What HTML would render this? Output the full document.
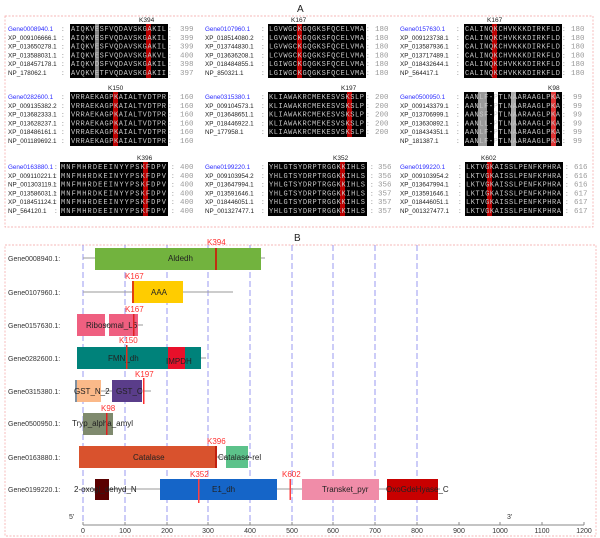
<!DOCTYPE html>
<html><head><meta charset="utf-8"><style>
body{margin:0;background:#fff}
svg{display:block;font-family:"Liberation Sans",sans-serif}
.l{font-size:6.3px;fill:#222}
.g{font-size:6.3px;fill:#2b2bff}
.s{font-family:"Liberation Mono",monospace;font-size:7px;fill:#c8c8c8}
.n{font-family:"Liberation Mono",monospace;font-size:7.5px;fill:#999}
.k{font-size:6.5px;fill:#222}
.d{font-size:8px;fill:#222}
.r{font-size:8px;fill:#ff3030}
.a{font-size:7px;fill:#333}
</style></head><body>
<svg width="600" height="538" viewBox="0 0 600 538">
<text x="297" y="12" font-size="10" fill="#222">A</text>
<rect x="5" y="16" width="588" height="211" fill="none" stroke="#f4a0a0" stroke-width="0.7" stroke-dasharray="2,1.5"/>

<!-- Group 1 -->
<g transform="translate(0,24)">
 <text class="k" x="139" y="-2">K394</text><text class="k" x="291" y="-2">K167</text><text class="k" x="487" y="-2">K167</text>
 <rect x="70" y="0" width="98" height="54" fill="#000"/><rect x="95" y="0" width="4" height="54" fill="#888"/><rect x="146" y="0" width="5" height="54" fill="#b00"/>
 <rect x="268" y="0" width="98" height="54" fill="#000"/><rect x="297" y="0" width="5" height="54" fill="#b00"/>
 <rect x="464" y="0" width="98" height="54" fill="#000"/><rect x="492" y="0" width="5" height="54" fill="#b00"/>
 <g class="g"><text x="8" y="7">Gene0008940.1</text><text x="205" y="7">Gene0107960.1</text><text x="400" y="7">Gene0157630.1</text></g>
 <g class="l">
 <text x="8" y="15.8">XP_009106666.1</text><text x="8" y="24.6">XP_013650278.1</text><text x="8" y="33.4">XP_013588031.1</text><text x="8" y="42.2">XP_018457178.1</text><text x="8" y="51">NP_178062.1</text>
 <text x="205" y="15.8">XP_018514080.2</text><text x="205" y="24.6">XP_013744830.1</text><text x="205" y="33.4">XP_013636208.1</text><text x="205" y="42.2">XP_018484855.1</text><text x="205" y="51">NP_850321.1</text>
 <text x="400" y="15.8">XP_009123738.1</text><text x="400" y="24.6">XP_013587936.1</text><text x="400" y="33.4">XP_013717489.1</text><text x="400" y="42.2">XP_018432644.1</text><text x="400" y="51">NP_564417.1</text>
 <text x="62" y="7">:</text><text x="62" y="15.8">:</text><text x="62" y="24.6">:</text><text x="62" y="33.4">:</text><text x="62" y="42.2">:</text><text x="62" y="51">:</text>
 <text x="262" y="7">:</text><text x="262" y="15.8">:</text><text x="262" y="24.6">:</text><text x="262" y="33.4">:</text><text x="262" y="42.2">:</text><text x="262" y="51">:</text>
 <text x="457" y="7">:</text><text x="457" y="15.8">:</text><text x="457" y="24.6">:</text><text x="457" y="33.4">:</text><text x="457" y="42.2">:</text><text x="457" y="51">:</text>
 <text x="169" y="7">:</text><text x="169" y="15.8">:</text><text x="169" y="24.6">:</text><text x="169" y="33.4">:</text><text x="169" y="42.2">:</text><text x="169" y="51">:</text>
 <text x="367" y="7">:</text><text x="367" y="15.8">:</text><text x="367" y="24.6">:</text><text x="367" y="33.4">:</text><text x="367" y="42.2">:</text><text x="367" y="51">:</text>
 <text x="563" y="7">:</text><text x="563" y="15.8">:</text><text x="563" y="24.6">:</text><text x="563" y="33.4">:</text><text x="563" y="42.2">:</text><text x="563" y="51">:</text>
 </g>
 <g class="s">
 <text x="71" y="7" textLength="95">AIQKVESFVQDAVSKGAKIL</text><text x="71" y="15.8" textLength="95">AIQKVESFVQDAVSKGAKIL</text><text x="71" y="24.6" textLength="95">AIQKVESFVQDAVSKGAKIL</text><text x="71" y="33.4" textLength="95">AIQKVESFVQDAVSKGAKVL</text><text x="71" y="42.2" textLength="95">AIQKVDSFVQDAVSKGAKIL</text><text x="71" y="51" textLength="95">AVQKVETFVQDAVSKGAKII</text>
 <text x="269" y="7" textLength="95">LGVWGCKGQGKSFQCELVMA</text><text x="269" y="15.8" textLength="95">LGVWGCKGQGKSFQCELVMA</text><text x="269" y="24.6" textLength="95">LGVWGCKGQGKSFQCELVMA</text><text x="269" y="33.4" textLength="95">LCVWGCKGQGKSFQCELVMA</text><text x="269" y="42.2" textLength="95">LGIWGCKGQGKSFQCELVMA</text><text x="269" y="51" textLength="95">LGIWGCKGQGKSFQCELVMA</text>
 <text x="465" y="7" textLength="95">CALINQKCHVKKKDIRKFLD</text><text x="465" y="15.8" textLength="95">CALINQKCHVKKKDIRKFLD</text><text x="465" y="24.6" textLength="95">CALINQKCHVKKKDIRKFLD</text><text x="465" y="33.4" textLength="95">CALINQKCHVKKKDIRKFLD</text><text x="465" y="42.2" textLength="95">CALINQKCHVKKKDIRKFLD</text><text x="465" y="51" textLength="95">CALINQKCHVKKKDIRKFLD</text>
 </g>
 <g class="n">
 <text x="180" y="7">399</text><text x="180" y="15.8">399</text><text x="180" y="24.6">399</text><text x="180" y="33.4">400</text><text x="180" y="42.2">398</text><text x="180" y="51">397</text>
 <text x="375" y="7">180</text><text x="375" y="15.8">180</text><text x="375" y="24.6">180</text><text x="375" y="33.4">180</text><text x="375" y="42.2">180</text><text x="375" y="51">180</text>
 <text x="571" y="7">180</text><text x="571" y="15.8">180</text><text x="571" y="24.6">180</text><text x="571" y="33.4">180</text><text x="571" y="42.2">180</text><text x="571" y="51">180</text>
 </g>
</g>

<!-- Group 2 -->
<g transform="translate(0,92)">
 <text class="k" x="108" y="-2">K150</text><text class="k" x="341" y="-2">K197</text><text class="k" x="548" y="-2">K98</text>
 <rect x="70" y="0" width="98" height="54" fill="#000"/><rect x="113" y="0" width="5" height="54" fill="#b00"/>
 <rect x="268" y="0" width="98" height="45" fill="#000"/><rect x="347" y="0" width="5" height="45" fill="#b00"/>
 <rect x="464" y="0" width="98" height="54" fill="#000"/><rect x="478" y="0" width="9" height="54" fill="#999"/><rect x="494" y="0" width="4" height="54" fill="#fff"/><rect x="511" y="0" width="5" height="54" fill="#aaa"/><rect x="551" y="0" width="5" height="54" fill="#d33"/>
 <g class="g"><text x="8" y="7">Gene0282600.1</text><text x="205" y="7">Gene0315380.1</text><text x="400" y="7">Gene0500950.1</text></g>
 <g class="l">
 <text x="8" y="15.8">XP_009135382.2</text><text x="8" y="24.6">XP_013682333.1</text><text x="8" y="33.4">XP_013628237.1</text><text x="8" y="42.2">XP_018486161.1</text><text x="8" y="51">NP_001189692.1</text>
 <text x="205" y="15.8">XP_009104573.1</text><text x="205" y="24.6">XP_013648651.1</text><text x="205" y="33.4">XP_018446922.1</text><text x="205" y="42.2">NP_177958.1</text>
 <text x="400" y="15.8">XP_009143379.1</text><text x="400" y="24.6">XP_013706999.1</text><text x="400" y="33.4">XP_013630892.1</text><text x="400" y="42.2">XP_018434351.1</text><text x="400" y="51">NP_181387.1</text>
 <text x="62" y="7">:</text><text x="62" y="15.8">:</text><text x="62" y="24.6">:</text><text x="62" y="33.4">:</text><text x="62" y="42.2">:</text><text x="62" y="51">:</text>
 <text x="262" y="7">:</text><text x="262" y="15.8">:</text><text x="262" y="24.6">:</text><text x="262" y="33.4">:</text><text x="262" y="42.2">:</text>
 <text x="457" y="7">:</text><text x="457" y="15.8">:</text><text x="457" y="24.6">:</text><text x="457" y="33.4">:</text><text x="457" y="42.2">:</text><text x="457" y="51">:</text>
 <text x="169" y="7">:</text><text x="169" y="15.8">:</text><text x="169" y="24.6">:</text><text x="169" y="33.4">:</text><text x="169" y="42.2">:</text><text x="169" y="51">:</text>
 <text x="367" y="7">:</text><text x="367" y="15.8">:</text><text x="367" y="24.6">:</text><text x="367" y="33.4">:</text><text x="367" y="42.2">:</text>
 <text x="563" y="7">:</text><text x="563" y="15.8">:</text><text x="563" y="24.6">:</text><text x="563" y="33.4">:</text><text x="563" y="42.2">:</text><text x="563" y="51">:</text>
 </g>
 <g class="s">
 <text x="71" y="7" textLength="95">VRRAEKAGPKAIALTVDTPR</text><text x="71" y="15.8" textLength="95">VRRAEKAGPKAIALTVDTPR</text><text x="71" y="24.6" textLength="95">VRRAEKAGPKAIALTVDTPR</text><text x="71" y="33.4" textLength="95">VRRAEKAGPKAIALTVDTPR</text><text x="71" y="42.2" textLength="95">VRRAEKAGPKAIALTVDTPR</text><text x="71" y="51" textLength="95">VRRAEKAGPKAIALTVDTPR</text>
 <text x="269" y="7" textLength="95">KLIAWAKRCMEKESVSKSLP</text><text x="269" y="15.8" textLength="95">KLIAWAKRCMEKESVSKSLP</text><text x="269" y="24.6" textLength="95">KLIAWAKRCMEKESVSKSLP</text><text x="269" y="33.4" textLength="95">KLIAWAKRCMEKESVSKSLP</text><text x="269" y="42.2" textLength="95">KLIAWAKRCMEKESVSKSLP</text>
 <text x="465" y="7" textLength="95">AANLF-PTLNAARAAGLPKA</text><text x="465" y="15.8" textLength="95">AANLF-PTLNAARAAGLPKA</text><text x="465" y="24.6" textLength="95">AANSF-PTLNAARAAGLPKA</text><text x="465" y="33.4" textLength="95">AANLL-PTLNAARAAGLPKA</text><text x="465" y="42.2" textLength="95">AANLF-PTLNAARAAGLPKA</text><text x="465" y="51" textLength="95">AANLF-PTLNAARAAGLPKA</text>
 </g>
 <g class="n">
 <text x="180" y="7">160</text><text x="180" y="15.8">160</text><text x="180" y="24.6">160</text><text x="180" y="33.4">160</text><text x="180" y="42.2">160</text><text x="180" y="51">160</text>
 <text x="375" y="7">200</text><text x="375" y="15.8">200</text><text x="375" y="24.6">200</text><text x="375" y="33.4">200</text><text x="375" y="42.2">200</text>
 <text x="573" y="7">99</text><text x="573" y="15.8">99</text><text x="573" y="24.6">99</text><text x="573" y="33.4">99</text><text x="573" y="42.2">99</text><text x="573" y="51">99</text>
 </g>
</g>

<!-- Group 3 -->
<g transform="translate(0,162)">
 <text class="k" x="137" y="-2">K396</text><text class="k" x="333" y="-2">K352</text><text class="k" x="481" y="-2">K602</text>
 <rect x="60" y="0" width="108" height="54" fill="#000"/><rect x="143" y="0" width="5" height="54" fill="#b00"/>
 <rect x="268" y="0" width="99" height="54" fill="#000"/><rect x="340" y="0" width="5" height="54" fill="#b00"/>
 <rect x="465" y="0" width="98" height="54" fill="#000"/><rect x="487" y="0" width="5" height="54" fill="#b00"/>
 <g class="g"><text x="8" y="7">Gene0163880.1</text><text x="205" y="7">Gene0199220.1</text><text x="400" y="7">Gene0199220.1</text></g>
 <g class="l">
 <text x="8" y="15.8">XP_009110221.1</text><text x="8" y="24.6">NP_001303119.1</text><text x="8" y="33.4">XP_013586031.1</text><text x="8" y="42.2">XP_018451124.1</text><text x="8" y="51">NP_564120.1</text>
 <text x="205" y="15.8">XP_009103954.2</text><text x="205" y="24.6">XP_013647994.1</text><text x="205" y="33.4">XP_013591646.1</text><text x="205" y="42.2">XP_018446051.1</text><text x="205" y="51">NP_001327477.1</text>
 <text x="400" y="15.8">XP_009103954.2</text><text x="400" y="24.6">XP_013647994.1</text><text x="400" y="33.4">XP_013591646.1</text><text x="400" y="42.2">XP_018446051.1</text><text x="400" y="51">NP_001327477.1</text>
 <text x="55" y="7">:</text><text x="55" y="15.8">:</text><text x="55" y="24.6">:</text><text x="55" y="33.4">:</text><text x="55" y="42.2">:</text><text x="55" y="51">:</text>
 <text x="262" y="7">:</text><text x="262" y="15.8">:</text><text x="262" y="24.6">:</text><text x="262" y="33.4">:</text><text x="262" y="42.2">:</text><text x="262" y="51">:</text>
 <text x="459" y="7">:</text><text x="459" y="15.8">:</text><text x="459" y="24.6">:</text><text x="459" y="33.4">:</text><text x="459" y="42.2">:</text><text x="459" y="51">:</text>
 <text x="172" y="7">:</text><text x="172" y="15.8">:</text><text x="172" y="24.6">:</text><text x="172" y="33.4">:</text><text x="172" y="42.2">:</text><text x="172" y="51">:</text>
 <text x="371" y="7">:</text><text x="371" y="15.8">:</text><text x="371" y="24.6">:</text><text x="371" y="33.4">:</text><text x="371" y="42.2">:</text><text x="371" y="51">:</text>
 <text x="566" y="7">:</text><text x="566" y="15.8">:</text><text x="566" y="24.6">:</text><text x="566" y="33.4">:</text><text x="566" y="42.2">:</text><text x="566" y="51">:</text>
 </g>
 <g class="s">
 <text x="61" y="7" textLength="105">MNFMHRDEEINYYPSKFDPV</text><text x="61" y="15.8" textLength="105">MNFMHRDKEINYYPSKFDPV</text><text x="61" y="24.6" textLength="105">MNFMHRDEEINYYPSKFDPV</text><text x="61" y="33.4" textLength="105">MNFMHRDKEINYYPSKFDPV</text><text x="61" y="42.2" textLength="105">MNFMHRDEEINYYPSKFDPV</text><text x="61" y="51" textLength="105">MNFMHRDEEINYYPSKFDPV</text>
 <text x="269" y="7" textLength="96">YHLGTSYDRPTRGGKKIHLS</text><text x="269" y="15.8" textLength="96">YHLGTSYDRPTRGGKKIHLS</text><text x="269" y="24.6" textLength="96">YHLGTSYDRPTRGGKKIHLS</text><text x="269" y="33.4" textLength="96">YHLGTSYDRPTRGGKKIHLS</text><text x="269" y="42.2" textLength="96">YHLGTSYDRPTRGGKKIHLS</text><text x="269" y="51" textLength="96">YHLGTSYDRPTRGGKKIHLS</text>
 <text x="466" y="7" textLength="95">LKTVGKAISSLPENFKPHRA</text><text x="466" y="15.8" textLength="95">LKTVGKAISSLPENFKPHRA</text><text x="466" y="24.6" textLength="95">LKTVGKAISSLPENFKPHRA</text><text x="466" y="33.4" textLength="95">LKTIGKAISSLPENFKPHRA</text><text x="466" y="42.2" textLength="95">LKTVGKAISSLPENFKPHRA</text><text x="466" y="51" textLength="95">LKTVGKAISSLPENFKPHRA</text>
 </g>
 <g class="n">
 <text x="180" y="7">400</text><text x="180" y="15.8">400</text><text x="180" y="24.6">400</text><text x="180" y="33.4">400</text><text x="180" y="42.2">400</text><text x="180" y="51">400</text>
 <text x="378" y="7">356</text><text x="378" y="15.8">356</text><text x="378" y="24.6">356</text><text x="378" y="33.4">357</text><text x="378" y="42.2">357</text><text x="378" y="51">357</text>
 <text x="574" y="7">616</text><text x="574" y="15.8">616</text><text x="574" y="24.6">616</text><text x="574" y="33.4">617</text><text x="574" y="42.2">617</text><text x="574" y="51">617</text>
 </g>
</g>

<text x="294" y="241" font-size="10" fill="#222">B</text>
<rect x="5" y="245" width="591" height="291" fill="none" stroke="#f4a0a0" stroke-width="0.7" stroke-dasharray="2,1.5"/>

<!-- dashed grid -->
<g stroke="#9a9af0" stroke-width="1" stroke-dasharray="6,3">
<line x1="83" y1="245" x2="83" y2="523"/><line x1="125" y1="245" x2="125" y2="523"/><line x1="167" y1="245" x2="167" y2="523"/><line x1="208" y1="245" x2="208" y2="523"/><line x1="250" y1="245" x2="250" y2="523"/><line x1="292" y1="245" x2="292" y2="523"/><line x1="333" y1="245" x2="333" y2="523"/><line x1="375" y1="245" x2="375" y2="523"/><line x1="417" y1="245" x2="417" y2="523"/>
</g>

<!-- gene rows -->
<g class="a">
<text x="8" y="261">Gene0008940.1:</text>
<text x="8" y="295">Gene0107960.1:</text>
<text x="8" y="328">Gene0157630.1:</text>
<text x="8" y="361">Gene0282600.1:</text>
<text x="8" y="394">Gene0315380.1:</text>
<text x="8" y="426">Gene0500950.1:</text>
<text x="8" y="460">Gene0163880.1:</text>
<text x="8" y="492">Gene0199220.1:</text>
</g>
<g stroke="#999" stroke-width="1">
<line x1="83" y1="258" x2="265" y2="258"/>
<line x1="83" y1="292" x2="233" y2="292"/>
<line x1="83" y1="325" x2="143" y2="325"/>
<line x1="83" y1="358" x2="206" y2="358"/>
<line x1="83" y1="391" x2="151" y2="391"/>
<line x1="83" y1="457" x2="250" y2="457"/>
<line x1="83" y1="489" x2="440" y2="489"/>
</g>
<rect x="95" y="248" width="166" height="22" fill="#72b33e"/><text class="d" x="168" y="261">Aldedh</text>
<rect x="215" y="248" width="2" height="22" fill="#c03010"/><text class="r" x="207" y="245">K394</text>

<rect x="133" y="281" width="50" height="22" fill="#ffcc00"/><text class="d" x="151" y="295">AAA</text>
<rect x="132" y="281" width="2" height="22" fill="#e04010"/><text class="r" x="125" y="279">K167</text>

<rect x="77" y="314" width="28" height="22" fill="#ef5f80"/><rect x="109" y="314" width="29" height="22" fill="#ef5f80"/>
<text class="d" x="86" y="328">Ribosomal_L6</text>
<rect x="133" y="314" width="1.5" height="22" fill="#e02020"/><text class="r" x="125" y="312">K167</text>

<rect x="77" y="347" width="124" height="22" fill="#00827a"/><rect x="168" y="347" width="17" height="22" fill="#e8102a"/>
<text class="d" x="108" y="361">FMN_dh</text><text class="d" x="166" y="364">IMPDH</text>
<rect x="126" y="345" width="1.5" height="24" fill="#e03020"/><text class="r" x="119" y="343">K150</text>

<rect x="75" y="380" width="26" height="22" fill="#fbb989"/><rect x="75" y="380" width="2" height="22" fill="#8090a0"/>
<text class="d" x="74" y="394">GST_N_2</text>
<rect x="112" y="380" width="30" height="22" fill="#5a3d8a"/><text class="d" x="116" y="394">GST_C</text>
<rect x="143" y="378" width="1.5" height="26" fill="#ff3030"/><text class="r" x="135" y="377">K197</text>

<rect x="83" y="413" width="30" height="22" fill="#7f8a6e"/><text class="d" x="72" y="426">Tryp_alpha_amyl</text>
<rect x="106" y="413" width="1.5" height="22" fill="#e02020"/><text class="r" x="101" y="411">K98</text>

<rect x="79" y="446" width="137" height="22" fill="#d9522d"/><text class="d" x="133" y="460">Catalase</text>
<rect x="215" y="446" width="2" height="22" fill="#c02010"/><text class="r" x="207" y="444">K396</text>
<rect x="226" y="446" width="22" height="22" fill="#5cc28a"/><text class="d" x="218" y="460">Catalase-rel</text>

<rect x="95" y="479" width="14" height="21" fill="#5a0000"/>
<text class="d" x="74" y="492">2-oxogl_dehyd_N</text>
<rect x="160" y="479" width="117" height="21" fill="#1565c8"/><text class="d" x="212" y="492">E1_dh</text>
<rect x="198" y="479" width="1.5" height="24" fill="#ff4040"/><text class="r" x="190" y="477">K352</text>
<rect x="289.5" y="479" width="1.5" height="21" fill="#ff4040"/><text class="r" x="282" y="477">K602</text>
<rect x="302" y="479" width="77" height="21" fill="#f08ca8"/><text class="d" x="322" y="492">Transket_pyr</text>
<rect x="387" y="479" width="51" height="21" fill="#c80000"/><text class="d" x="386" y="492">OxoGdeHyase_C</text>

<!-- axis -->
<text x="69" y="519" font-size="7" fill="#333">5'</text><text x="507" y="519" font-size="7" fill="#333">3'</text>
<line x1="83" y1="525" x2="584" y2="525" stroke="#888" stroke-width="1"/>
<g stroke="#888"><line x1="83" y1="522" x2="83" y2="525"/><line x1="125" y1="522" x2="125" y2="525"/><line x1="167" y1="522" x2="167" y2="525"/><line x1="208" y1="522" x2="208" y2="525"/><line x1="250" y1="522" x2="250" y2="525"/><line x1="292" y1="522" x2="292" y2="525"/><line x1="333" y1="522" x2="333" y2="525"/><line x1="375" y1="522" x2="375" y2="525"/><line x1="417" y1="522" x2="417" y2="525"/><line x1="459" y1="522" x2="459" y2="525"/><line x1="500" y1="522" x2="500" y2="525"/><line x1="542" y1="522" x2="542" y2="525"/><line x1="584" y1="522" x2="584" y2="525"/></g>
<g font-size="7" fill="#333" text-anchor="middle">
<text x="83" y="533">0</text><text x="125" y="533">100</text><text x="167" y="533">200</text><text x="208" y="533">300</text><text x="250" y="533">400</text><text x="292" y="533">500</text><text x="333" y="533">600</text><text x="375" y="533">700</text><text x="417" y="533">800</text><text x="459" y="533">900</text><text x="500" y="533">1000</text><text x="542" y="533">1100</text><text x="584" y="533">1200</text>
</g>
</svg>
</body></html>
